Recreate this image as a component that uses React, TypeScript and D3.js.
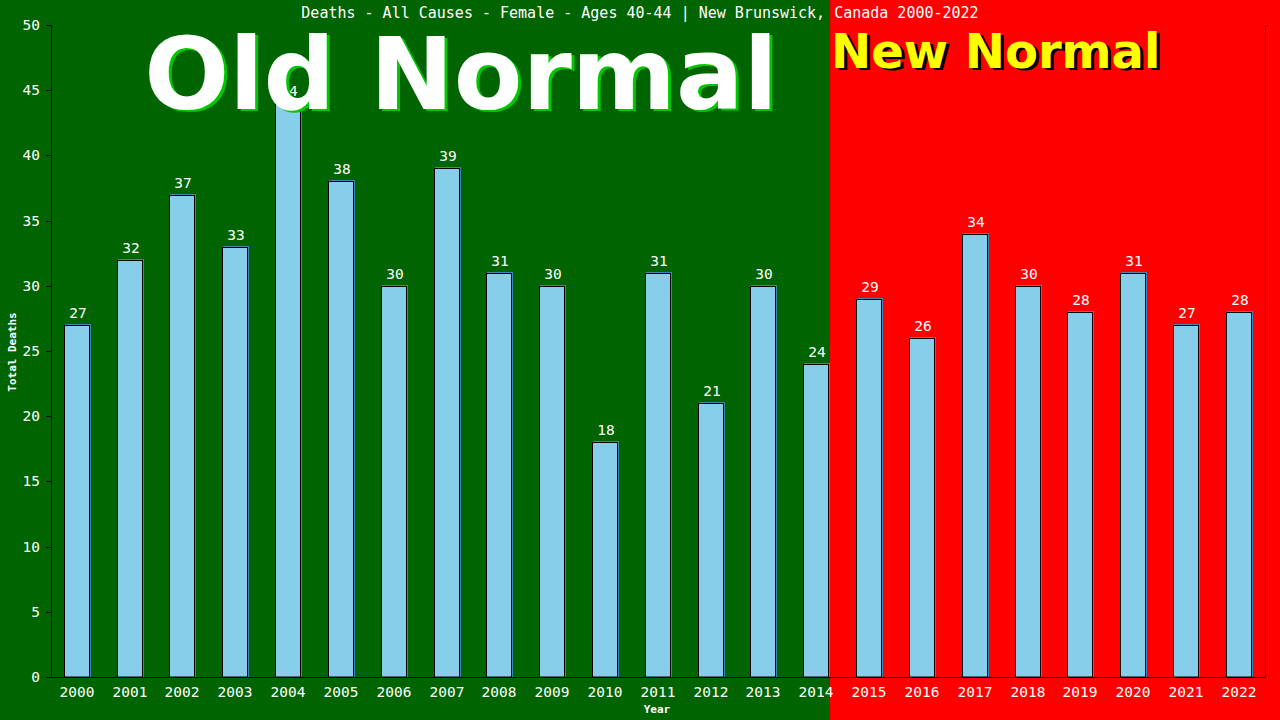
import React from "react";
import * as d3 from "d3";

const years = ["2000","2001","2002","2003","2004","2005","2006","2007","2008","2009","2010","2011","2012","2013","2014","2015","2016","2017","2018","2019","2020","2021","2022"];
const deaths = [27,32,37,33,44,38,30,39,31,30,18,31,21,30,24,29,26,34,30,28,31,27,28];
const yTicks = [0,5,10,15,20,25,30,35,40,45,50];
const lastOldYear = "2014";
const title = "Deaths - All Causes - Female - Ages 40-44 | New Brunswick, Canada 2000-2022";

const W = 1280, H = 720;
const left = 52, right = 1265.5, top = 25, bottom = 677;
const mono = "'DejaVu Sans Mono', 'Liberation Mono', monospace";
const sans = "'DejaVu Sans', Verdana, sans-serif";

export default function App() {
  const x = d3.scaleBand<string>().domain(years).range([50.6, 1265.4]).paddingInner(0.5).paddingOuter(0.25);
  const y = d3.scaleLinear().domain([0, 50]).range([bottom, top]);
  const bw = x.bandwidth();
  const split = Math.round((x(lastOldYear) as number) + bw);

  return (
    <svg width={W} height={H} style={{ position: "absolute", left: 0, top: 0, display: "block" }}>
      <rect x={0} y={0} width={split} height={H} fill="#006400" />
      <rect x={split} y={0} width={W - split} height={H} fill="#ff0000" />
      <text x={640} y={18} fill="#fff" fontFamily={mono} fontSize={15} textAnchor="middle">{title}</text>

      {years.map((yr, i) => {
        const bx = Math.round(x(yr) as number);
        const by = Math.round(y(deaths[i]));
        const w = Math.round(bw);
        return (
          <g key={yr}>
            <rect x={bx + 1} y={by - 1} width={w} height={bottom - by + 1} fill="#4682b4" />
            <rect x={bx + 0.5} y={by + 0.5} width={w - 1} height={bottom - by - 0.5} fill="#87ceeb" stroke="#000" strokeWidth={1} />
            <text x={bx + w / 2 + 1} y={by - 7} fill="#fff" fontFamily={mono} fontSize={14.5} textAnchor="middle">{deaths[i]}</text>
            <text x={bx + w / 2} y={697} fill="#fff" fontFamily={mono} fontSize={14.5} textAnchor="middle">{yr}</text>
          </g>
        );
      })}

      <line x1={left - 0.5} x2={left - 0.5} y1={top} y2={bottom} stroke="#000" />
      <line x1={right} x2={right} y1={top} y2={bottom} stroke="#000" />
      <line x1={left - 0.5} x2={right} y1={bottom + 0.5} y2={bottom + 0.5} stroke="#000" />
      {yTicks.map((t) => (
        <g key={t}>
          <line x1={left - 6} x2={left} y1={Math.round(y(t)) + 0.5} y2={Math.round(y(t)) + 0.5} stroke="#000" />
          <text x={40} y={y(t) + 5} fill="#fff" fontFamily={mono} fontSize={14.5} textAnchor="end">{t}</text>
        </g>
      ))}
      <text x={657} y={713} fill="#fff" fontFamily={mono} fontSize={11} fontWeight="bold" textAnchor="middle">Year</text>
      <text transform={`translate(16,352) rotate(-90)`} fill="#fff" fontFamily={mono} fontSize={11} fontWeight="bold" textAnchor="middle">Total Deaths</text>

      <text x={464} y={111} fill="#00c800" fontFamily={sans} fontSize={100} fontWeight="bold" textAnchor="middle">Old Normal</text>
      <text x={461} y={109} fill="#fff" fontFamily={sans} fontSize={100} fontWeight="bold" textAnchor="middle">Old Normal</text>
      <text x={834} y={70} fill="#000" fontFamily={sans} fontSize={48} fontWeight="bold">New Normal</text>
      <text x={831} y={68} fill="#ffff00" fontFamily={sans} fontSize={48} fontWeight="bold">New Normal</text>
    </svg>
  );
}
